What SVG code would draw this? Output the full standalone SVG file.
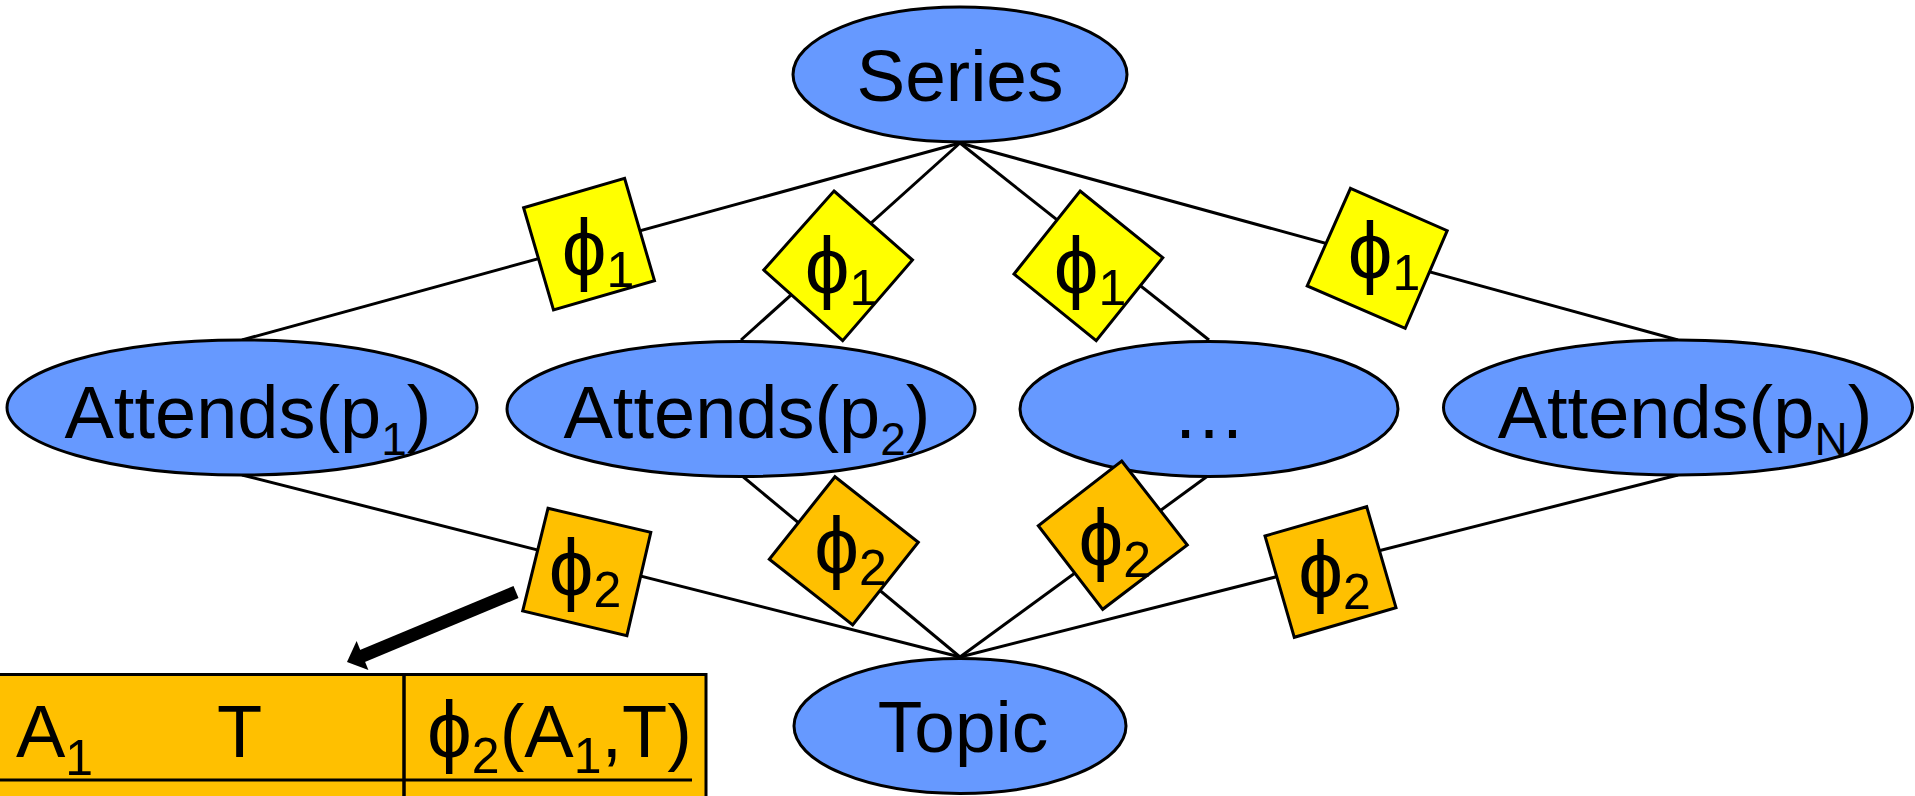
<svg xmlns="http://www.w3.org/2000/svg" width="1915" height="796" viewBox="0 0 1915 796">
<style>
.edge{stroke:#000;stroke-width:3;fill:none}
.var{fill:#6699FF;stroke:#000;stroke-width:3}
.f1{fill:#FFFF00;stroke:#000;stroke-width:3;stroke-linejoin:miter}
.f2{fill:#FFC000;stroke:#000;stroke-width:3;stroke-linejoin:miter}
text{font-family:"Liberation Sans",Arial,"DejaVu Sans",sans-serif;fill:#000}
.big{font-size:74px}
.mid{font-size:73px}
.phi{font-size:80px}
.sub{font-size:46px}
.fsub{font-size:50px}
</style>
<rect width="1915" height="796" fill="#fff"/>
<g id="connectors">
<line class="edge" x1="960" y1="143" x2="242" y2="340"/>
<line class="edge" x1="960" y1="143" x2="741" y2="340"/>
<line class="edge" x1="960" y1="143" x2="1209" y2="340"/>
<line class="edge" x1="960" y1="143" x2="1678" y2="340"/>
<line class="edge" x1="242" y1="475" x2="960" y2="657"/>
<line class="edge" x1="741" y1="475" x2="960" y2="657"/>
<line class="edge" x1="1209" y1="475" x2="960" y2="657"/>
<line class="edge" x1="1678" y1="475" x2="960" y2="657"/>
</g>
<g id="series">
<ellipse class="var" cx="960" cy="74.5" rx="167" ry="67.5"/>
<text class="mid" x="960" y="101" text-anchor="middle">Series</text>
</g>
<g id="attends1">
<ellipse class="var" cx="242" cy="407.5" rx="235" ry="67.5"/>
<text class="big" x="248" y="438" text-anchor="middle">Attends(p<tspan class="sub" dy="17">1</tspan><tspan dy="-17">)</tspan></text>
</g>
<g id="attends2">
<ellipse class="var" cx="741" cy="409" rx="234" ry="67.5"/>
<text class="big" x="747" y="438" text-anchor="middle">Attends(p<tspan class="sub" dy="17">2</tspan><tspan dy="-17">)</tspan></text>
</g>
<g id="ellipsis">
<ellipse class="var" cx="1209" cy="409" rx="189" ry="67.5"/>
<text class="big" x="1209" y="438" text-anchor="middle">…</text>
</g>
<g id="attendsN">
<ellipse class="var" cx="1678" cy="407.5" rx="234.5" ry="67.5"/>
<text class="big" x="1685" y="438" text-anchor="middle">Attends(p<tspan class="sub" dy="17">N</tspan><tspan dy="-17">)</tspan></text>
</g>
<g id="topic">
<ellipse class="var" cx="960" cy="726" rx="166" ry="67.5"/>
<text class="mid" x="963" y="752" text-anchor="middle">Topic</text>
</g>
<g id="phi1-a">
<polygon class="f1" points="523.6,207.7 624.6,178.3 654.5,280.7 553.5,310"/>
<text class="phi" x="598" y="275" text-anchor="middle">ϕ<tspan class="fsub" dy="12">1</tspan></text>
</g>
<g id="phi1-b">
<polygon class="f1" points="834,191 912.5,260 842.7,340.7 763.8,270"/>
<text class="phi" x="841" y="293" text-anchor="middle">ϕ<tspan class="fsub" dy="12">1</tspan></text>
</g>
<g id="phi1-c">
<polygon class="f1" points="1080.1,191 1162.8,257.7 1096.2,340.7 1014,274"/>
<text class="phi" x="1090" y="293" text-anchor="middle">ϕ<tspan class="fsub" dy="12">1</tspan></text>
</g>
<g id="phi1-d">
<polygon class="f1" points="1350.5,188.3 1447.2,230.7 1405.2,328.3 1307.2,286"/>
<text class="phi" x="1384" y="278" text-anchor="middle">ϕ<tspan class="fsub" dy="12">1</tspan></text>
</g>
<g id="phi2-a">
<polygon class="f2" points="548,508.3 650.8,532.3 626.9,635.7 522.7,611"/>
<text class="phi" x="585" y="595" text-anchor="middle">ϕ<tspan class="fsub" dy="12">2</tspan></text>
</g>
<g id="phi2-b">
<polygon class="f2" points="835,476.7 918.3,542.3 852.7,625 769.3,559.3"/>
<text class="phi" x="850.5" y="573" text-anchor="middle">ϕ<tspan class="fsub" dy="12">2</tspan></text>
</g>
<g id="phi2-c">
<polygon class="f2" points="1121.7,461 1187.3,545 1102.7,609.3 1038.3,525.7"/>
<text class="phi" x="1114.7" y="565" text-anchor="middle">ϕ<tspan class="fsub" dy="12">2</tspan></text>
</g>
<g id="phi2-d">
<polygon class="f2" points="1265,536 1366.7,506.7 1396,607.7 1294.3,637.3"/>
<text class="phi" x="1334.5" y="597" text-anchor="middle">ϕ<tspan class="fsub" dy="12">2</tspan></text>
</g>
<g id="pointer">
<line x1="516" y1="592" x2="360" y2="657" stroke="#000" stroke-width="13"/>
<polygon points="347,662 356.6,641 368.4,670" fill="#000"/>
</g>
<g id="table">
<rect x="-5" y="674.5" width="711" height="140" fill="#FFC000" stroke="#000" stroke-width="3"/>
<line x1="404" y1="674" x2="404" y2="800" stroke="#000" stroke-width="3.5"/>
<line x1="0" y1="780" x2="692" y2="780" stroke="#000" stroke-width="3.2"/>
<text class="big" x="16" y="757">A<tspan class="fsub" dy="18">1</tspan></text>
<text class="big" x="217" y="757">T</text>
<text class="big" x="427" y="757"><tspan class="phi">ϕ</tspan><tspan class="fsub" dy="16">2</tspan><tspan dy="-16">(A</tspan><tspan class="fsub" dy="16">1</tspan><tspan dy="-16">,T)</tspan></text>
</g>
</svg>
